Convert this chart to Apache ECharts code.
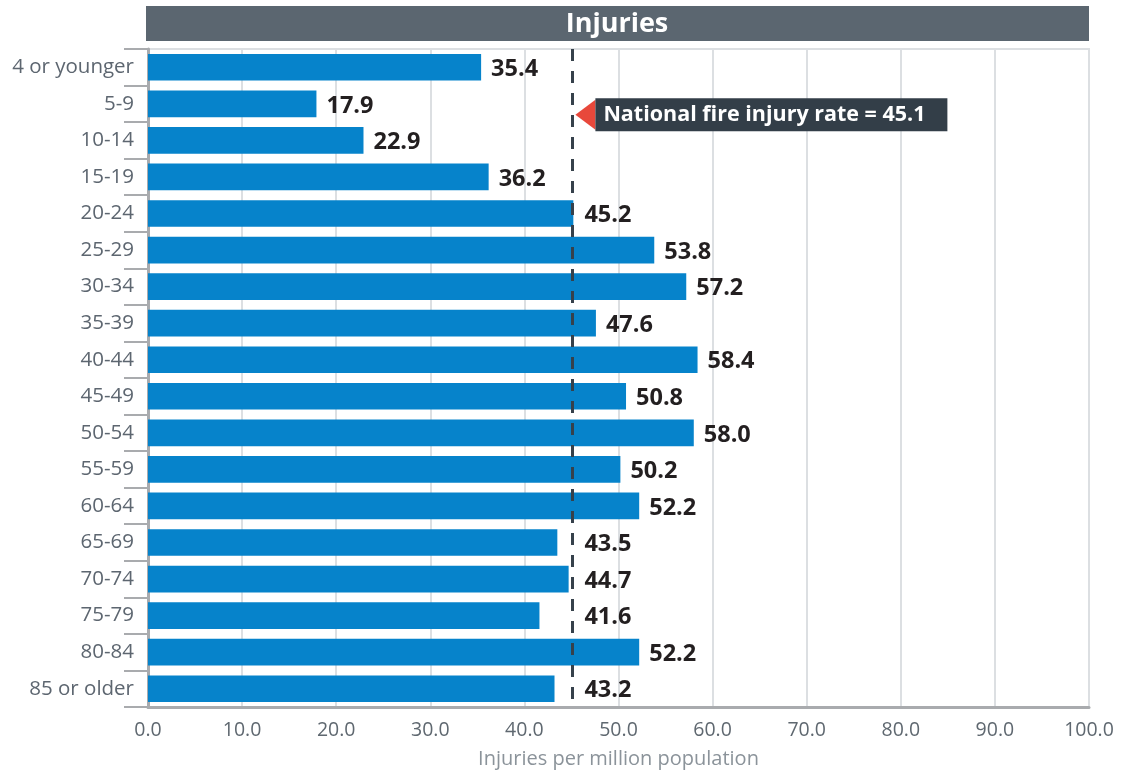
<!DOCTYPE html>
<html>
<head>
<meta charset="utf-8">
<script src="https://cdn.jsdelivr.net/npm/echarts@6/dist/echarts.min.js"></script>
<style>
html,body{margin:0;padding:0;background:#fff;}
#chart{width:1121px;height:774px;}
</style>
</head>
<body>
<div id="chart"></div>
<script>
const categories = ['4 or younger','5-9','10-14','15-19','20-24','25-29','30-34','35-39','40-44','45-49','50-54','55-59','60-64','65-69','70-74','75-79','80-84','85 or older'];
const injuries = [35.4,17.9,22.9,36.2,45.2,53.8,57.2,47.6,58.4,50.8,58.0,50.2,52.2,43.5,44.7,41.6,52.2,43.2];
const nationalRate = 45.1;
const annotationText = 'National fire injury rate = 45.1';
const titleText = 'Injuries';
const xAxisName = 'Injuries per million population';

const FONT = '"Open Sans", "Noto Sans", sans-serif';
const chart = echarts.init(document.getElementById('chart'), null, {renderer:'canvas'});

const labelStyle = {show:true, position:'right', distance:10, offset:[0,2], formatter:p=>p.value.toFixed(1),
  color:'#231f20', fontSize:23.5, fontWeight:'bold', fontFamily:FONT};

const option = {
  animation: false,
  backgroundColor: '#ffffff',
  grid: {left:148, right:32, top:49, bottom:65.5, show:true, borderColor:'#dcdfe2', borderWidth:2, containLabel:false},
  xAxis: {
    type:'value', min:0, max:100, interval:10,
    name: xAxisName, nameLocation:'middle', nameGap:42,
    nameTextStyle:{color:'#8b939a', fontSize:20, fontFamily:FONT},
    axisLine:{show:true, lineStyle:{color:'#a9abae', width:3}},
    axisTick:{show:false},
    axisLabel:{color:'#5f6870', fontSize:19.5, fontFamily:FONT, margin:13, formatter:v=>v.toFixed(1)},
    splitLine:{show:true, lineStyle:{color:'#dcdfe2', width:2}}
  },
  yAxis: {
    type:'category', data:categories, inverse:true,
    axisLine:{show:true, lineStyle:{color:'#a9abae', width:3}},
    axisTick:{show:true, length:24, lineStyle:{color:'#a9abae', width:2}},
    axisLabel:{color:'#5d6670', fontSize:20.5, fontFamily:FONT, margin:14, padding:[3,0,0,0]},
    splitLine:{show:false}
  },
  series: [{
    type:'bar', data:injuries, barCategoryGap:'27%',
    itemStyle:{color:'#0683cb'},
    label:labelStyle,
    markLine:{
      silent:true, symbol:['none','none'], z:10,
      label:{show:false},
      lineStyle:{color:'#36414b', width:3, type:[12,10]},
      data:[{xAxis:nationalRate}]
    }
  }]
};
chart.setOption(option);

const lx = chart.convertToPixel({xAxisIndex:0}, nationalRate);
// push value labels that would overlap the reference line to its right side
const dataItems = injuries.map(v => {
  const bx = chart.convertToPixel({xAxisIndex:0}, v);
  const start = bx + 10;
  if (start < lx + 12 && start + 50 > lx) {
    return {value:v, label:{offset:[lx + 12 - start, 2]}};
  }
  return {value:v};
});
const ry = chart.convertToPixel({yAxisIndex:0}, categories[1]);
const cy = ry + 11;
chart.setOption({
  series:[{data:dataItems}],
  graphic: [
    {type:'rect', shape:{x:146, y:6, width:943, height:35}, style:{fill:'#5b6670'}, z:100},
    {type:'text', x:617, y:24, style:{text:titleText, fill:'#ffffff', font:'bold 27px ' + FONT, align:'center', verticalAlign:'middle'}, z:101},
    {type:'polygon', shape:{points:[[lx+3, cy],[lx+23, cy-15],[lx+23, cy+15]]}, style:{fill:'#e8483b'}, z:100},
    {type:'rect', shape:{x:lx+23, y:cy-16.5, width:352, height:33}, style:{fill:'#333e48'}, z:100},
    {type:'text', x:lx+31, y:cy+0.5, style:{text:annotationText, fill:'#ffffff', font:'bold 21.5px ' + FONT, align:'left', verticalAlign:'middle'}, z:101}
  ]
});
</script>
</body>
</html>
